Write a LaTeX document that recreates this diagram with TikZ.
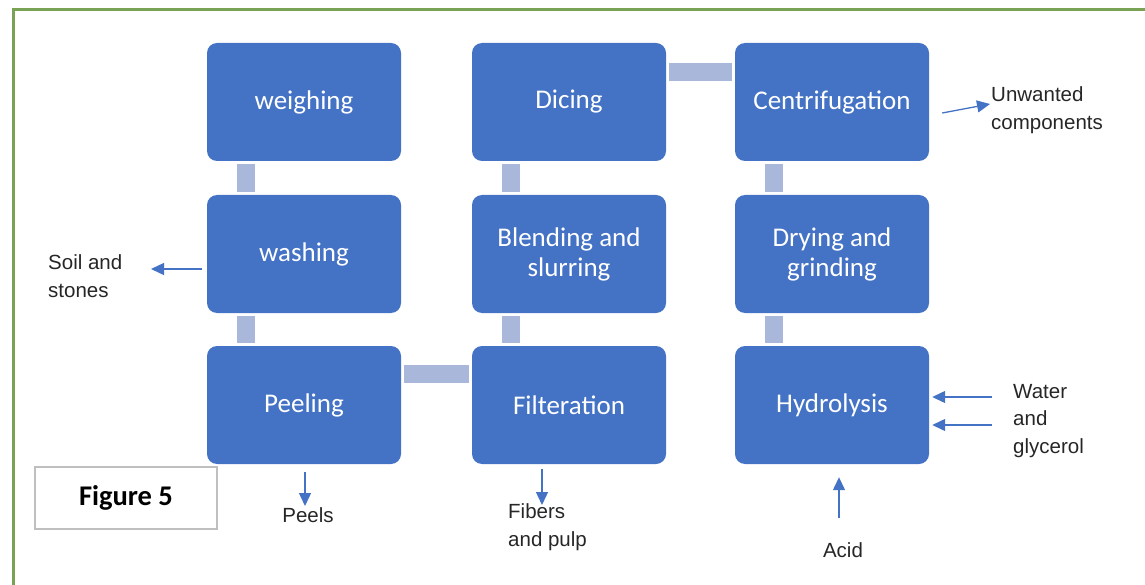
\documentclass[tikz,border=0pt]{standalone}
\usepackage{fontspec}
\setmainfont{Liberation Sans}
\newfontfamily\boxfont{Carlito}
\usepackage{tikz}
\usetikzlibrary{arrows.meta, positioning, calc}
\usepackage{xcolor}

\definecolor{stepblue}{HTML}{4472C4}
\definecolor{barblue}{HTML}{A9B7DA}
\definecolor{framegreen}{HTML}{7AA254}
\definecolor{labelgray}{HTML}{262626}

\tikzset{
  stepbox/.style={draw=none, fill=stepblue, rounded corners=10pt, minimum width=194pt,
    minimum height=118pt, align=center, text=white, font=\boxfont\fontsize{27}{30}\selectfont},
  linkbar/.style={draw=barblue, line width=18pt, shorten <=3pt, shorten >=3pt},
  flow/.style={draw=stepblue, line width=1.3pt, -{Triangle[length=13pt,width=12pt]}},
  sidelabel/.style={align=left, text=labelgray, inner sep=0pt, font=\fontsize{20.5}{27.5}\selectfont}
}

\begin{document}
\begin{tikzpicture}[x=1pt, y=-1pt]
  \useasboundingbox (0,0) rectangle (1145,585);
  % frame
  \draw[framegreen, line width=3pt] (13,590) -- (13,10) -- (1150,10);

  % Process steps
  \node[stepbox] (weighing) at (304,102) {weighing};
  \node[stepbox] (washing) at (304,254) {washing};
  \node[stepbox] (peeling) at (304,405) {Peeling};
  \node[stepbox] (dicing) at (569,102) {Dicing};
  \node[stepbox] (blending) at (569,254) {Blending and\\slurring};
  \node[stepbox] (filter) at (569,405) {Filteration};
  \node[stepbox] (centri) at (832,102) {Centrifugation};
  \node[stepbox] (drying) at (832,254) {Drying and\\grinding};
  \node[stepbox] (hydro) at (832,405) {Hydrolysis};

  % Links between steps
  \draw[linkbar] ([xshift=39pt]weighing.south west) -- ([xshift=39pt]washing.north west);
  \draw[linkbar] ([xshift=39pt]washing.south west) -- ([xshift=39pt]peeling.north west);
  \draw[linkbar] ([yshift=-28pt]peeling.north east) -- ([yshift=-28pt]filter.north west);
  \draw[linkbar] ([xshift=39pt]filter.north west) -- ([xshift=39pt]blending.south west);
  \draw[linkbar] ([xshift=39pt]blending.north west) -- ([xshift=39pt]dicing.south west);
  \draw[linkbar] ([yshift=-29pt]dicing.north east) -- ([yshift=-29pt]centri.north west);
  \draw[linkbar] ([xshift=39pt]centri.south west) -- ([xshift=39pt]drying.north west);
  \draw[linkbar] ([xshift=39pt]drying.south west) -- ([xshift=39pt]hydro.north west);

  % Inputs and outputs
  \node[sidelabel, anchor=west] (soil) at (48,276) {Soil and\\stones};
  \node[sidelabel] (peels) at (308,515) {Peels};
  \node[sidelabel, anchor=west] (fibers) at (508,527) {Fibers\\and pulp};
  \node[sidelabel, anchor=west] (water) at (1013,421) {Water\\and\\glycerol};
  \node[sidelabel] (acid) at (843,550) {Acid};
  \node[sidelabel, anchor=west] (unwanted) at (991,110) {Unwanted\\components};

  \coordinate (soiltip) at (151,269);
  \coordinate (peelstip) at (305,506);
  \coordinate (fiberstip) at (542,505);
  \coordinate (watertail1) at (992,397);
  \coordinate (watertail2) at (992,425);
  \coordinate (acidtail) at (839,518);
  \coordinate (unwantedtip) at (990,104);

  \draw[flow] ([xshift=-5pt,yshift=-15pt]washing.west) -- (soiltip);
  \draw[flow] ([xshift=1pt,yshift=-8pt]peeling.south) -- (peelstip);
  \draw[flow] ([xshift=-27pt,yshift=-5pt]filter.south) -- (fiberstip);
  \draw[flow] (watertail1) -- ([xshift=3pt,yshift=8pt]hydro.east);
  \draw[flow] (watertail2) -- ([xshift=3pt,yshift=-20pt]hydro.east);
  \draw[flow] (acidtail) -- ([xshift=7pt,yshift=-13pt]hydro.south);
  \draw[flow] ([xshift=13pt,yshift=-11pt]centri.east) -- (unwantedtip);

  % caption box
  \node[draw=gray!50, line width=1.5pt, fill=white, minimum width=182pt, minimum height=62pt,
    font=\boxfont\bfseries\fontsize{28.5}{32}\selectfont] (figlabel) at (126,498) {Figure 5};
\end{tikzpicture}
\end{document}
